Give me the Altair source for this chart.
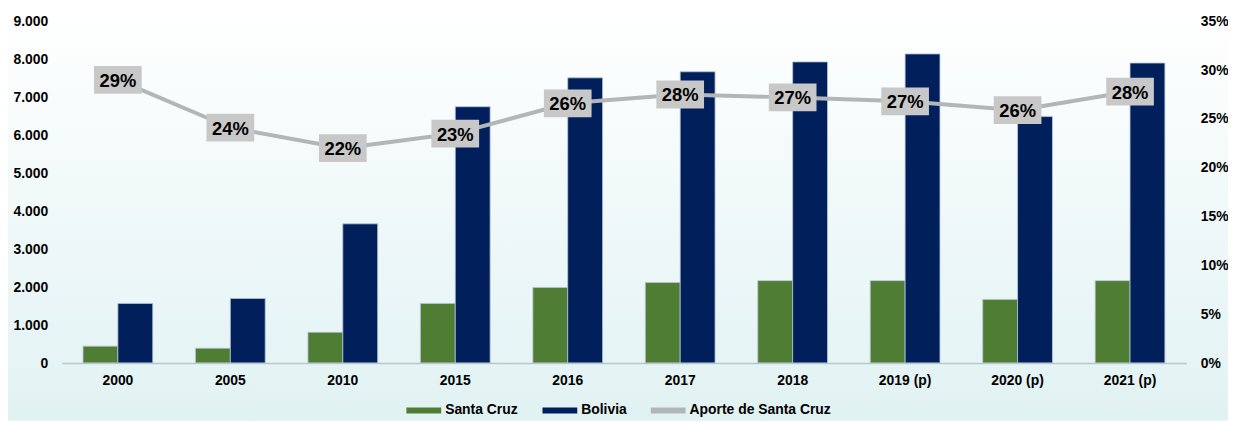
import altair as alt
import pandas as pd

years = ["2000", "2005", "2010", "2015", "2016", "2017", "2018", "2019 (p)", "2020 (p)", "2021 (p)"]
santa_cruz = [445, 390, 810, 1570, 1990, 2120, 2170, 2170, 1675, 2170]
bolivia = [1570, 1700, 3665, 6750, 7510, 7670, 7930, 8140, 6490, 7900]
aporte = [0.290, 0.241, 0.220, 0.235, 0.266, 0.275, 0.272, 0.268, 0.259, 0.278]
aporte_labels = ["29%", "24%", "22%", "23%", "26%", "28%", "27%", "27%", "26%", "28%"]
series_names = ["Santa Cruz", "Bolivia", "Aporte de Santa Cruz"]
series_colors = ["#507d34", "#001f5b", "#b3b6b9"]

W, H = 1132, 344
PAD = {"left": 54, "top": 12, "right": 42, "bottom": 58}

df_bars = pd.DataFrame(
    {"year": years * 2,
     "series": [series_names[0]] * len(years) + [series_names[1]] * len(years),
     "value": santa_cruz + bolivia}
)
df_pct = pd.DataFrame({"year": years, "pct": aporte, "label": aporte_labels,
                       "series": [series_names[2]] * len(years)})

color_scale = alt.Scale(domain=series_names, range=series_colors)

x_enc = alt.X(
    "year:N", sort=years,
    scale=alt.Scale(paddingInner=0.38, paddingOuter=0.19),
    axis=alt.Axis(title=None, labelAngle=0, ticks=False, domainColor="#b9c6ce",
                  domainWidth=1.5, labelPadding=11, labelFontSize=14,
                  labelFontWeight="bold", labelColor="#000000", zindex=1),
)

y_left = alt.Y(
    "value:Q", scale=alt.Scale(domain=[0, 9000], nice=False),
    axis=alt.Axis(orient="left", values=list(range(0, 9001, 1000)),
                  labelExpr="replace(format(datum.value, ','), ',', '.')",
                  grid=False, domain=False, ticks=False, labelPadding=14, title=None,
                  labelFontSize=14, labelFontWeight="bold", labelColor="#000000",
                  zindex=1),
)

y_right = alt.Y(
    "pct:Q", scale=alt.Scale(domain=[0, 0.35], nice=False),
    axis=alt.Axis(orient="right", values=[0, 0.05, 0.10, 0.15, 0.20, 0.25, 0.30, 0.35],
                  format=".0%", grid=False, domain=False, ticks=False, labelPadding=14,
                  title=None, labelFontSize=14, labelFontWeight="bold",
                  labelColor="#000000", zindex=1),
)

legend = alt.Legend(
    title=None, orient="none", legendX=347, legendY=374, direction="horizontal",
    symbolType="M-1,-0.17H1V0.17H-1Z", symbolSize=1225, symbolStrokeWidth=0,
    labelFontSize=14, labelFontWeight="bold", labelColor="#000000",
    columnPadding=24, labelOffset=4, zindex=1,
)

bg = alt.Chart(pd.DataFrame({"a": [0]})).mark_rect(
    color=alt.Gradient(
        gradient="linear",
        stops=[alt.GradientStop(color="#ffffff", offset=0),
               alt.GradientStop(color="#e1f2f3", offset=1)],
        x1=0, x2=0, y1=0, y2=1,
    )
).encode(
    x=alt.value(-PAD["left"]), x2=alt.value(W + PAD["right"]),
    y=alt.value(-PAD["top"]), y2=alt.value(H + PAD["bottom"]),
)

bars = alt.Chart(df_bars).mark_bar(stroke="#b7c6d4", strokeWidth=0.8).encode(
    x=x_enc,
    xOffset=alt.XOffset("series:N", sort=series_names[:2],
                        scale=alt.Scale(paddingInner=0, paddingOuter=0)),
    y=y_left,
    color=alt.Color("series:N", scale=color_scale, legend=legend),
)

line = alt.Chart(df_pct).mark_line(strokeWidth=4).encode(
    x=x_enc, y=y_right,
    color=alt.Color("series:N", scale=color_scale, legend=legend),
)

boxes = alt.Chart(df_pct).mark_point(
    shape="M-1,-0.583H1V0.583H-1Z", size=2304, filled=True,
    fill="#c8c8c8", opacity=1, strokeWidth=0,
).encode(x=x_enc, y=y_right)

labels = alt.Chart(df_pct).mark_text(
    fontSize=18.5, fontWeight="bold", color="#000000", baseline="middle", dy=1
).encode(x=x_enc, y=y_right, text="label:N")

pct_layer = alt.layer(line, boxes, labels)

chart = alt.layer(bg, bars, pct_layer).resolve_scale(y="independent").properties(
    width=W, height=H,
    autosize=alt.AutoSizeParams(type="none"),
    padding=PAD,
).configure(font="Liberation Sans").configure_view(stroke=None)

chart.save("out.html", embed_options={"renderer": "svg", "actions": False})
